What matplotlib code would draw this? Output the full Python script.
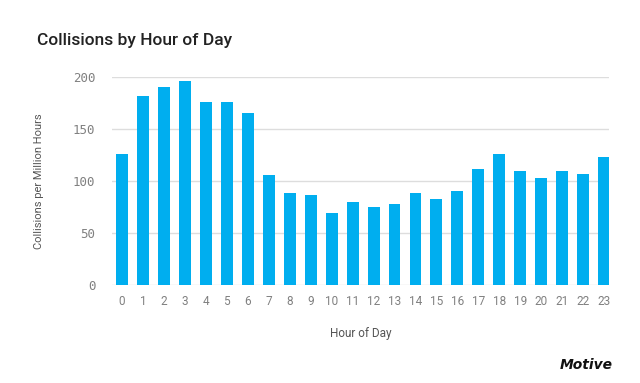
import matplotlib
matplotlib.use("Agg")
import matplotlib.pyplot as plt

hours = list(range(24))
hour_labels = [str(h) for h in hours]
collisions = [125.6, 181.5, 189.8, 195.5, 175.8, 175.8, 164.6, 105.3, 88.0, 86.1,
              68.6, 79.7, 74.9, 77.8, 88.0, 82.6, 90.0, 111.7, 125.6, 109.0,
              102.4, 109.0, 106.2, 123.1]
yticks = [0, 50, 100, 150, 200]

fig = plt.figure(figsize=(6.4, 3.83), dpi=100)
fig.patch.set_facecolor("white")

ax = fig.add_axes([0.175, 0.256, 0.777, 0.544])
ax.bar(hours, collisions, width=0.57, color="#00AEEF", zorder=3)
ax.set_xlim(-0.47, 23.24)
ax.set_ylim(0, 200)
ax.set_yticks(yticks)
ax.set_yticklabels([str(v) for v in yticks], family="DejaVu Sans Mono",
                   fontsize=9, color="#808080")
ax.set_xticks(hours)
ax.set_xticklabels(hour_labels, fontsize=8.5, color="#808080", family="Roboto")
ax.tick_params(length=0)
ax.tick_params(axis="y", pad=12)
ax.tick_params(axis="x", pad=7)
ax.grid(axis="y", color="#dddddd", linewidth=1, zorder=0)
for s in ax.spines.values():
    s.set_visible(False)

ax.set_xlabel("Hour of Day", fontsize=8.5, color="#555555", labelpad=14, family="Roboto")
ax.set_ylabel("Collisions per Million Hours", fontsize=8, color="#555555",
              labelpad=21, family="Roboto")

fig.text(0.058, 0.895, "Collisions by Hour of Day", fontsize=12.5,
         fontweight="medium", color="#222222", va="center", ha="left", family="Roboto")
fig.text(0.957, 0.047, "Motive", fontsize=10, fontweight="bold", style="italic",
         color="#111111", ha="right", va="center")

fig.savefig("out.png", dpi=100)
